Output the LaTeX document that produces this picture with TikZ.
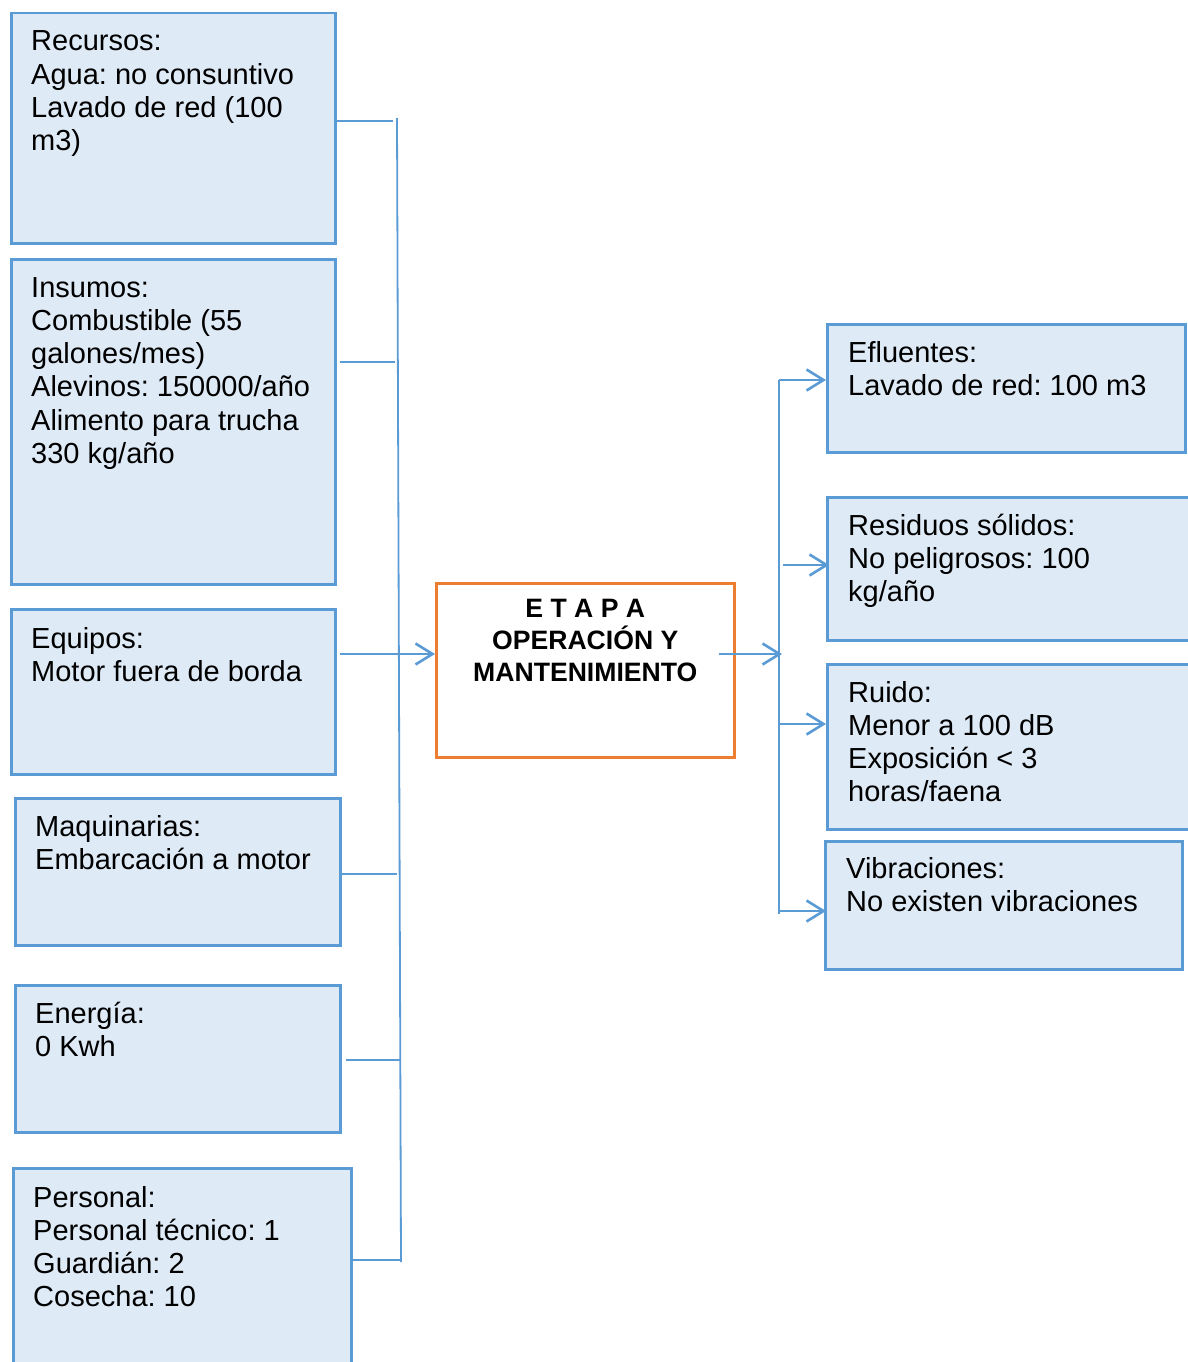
\documentclass[tikz,border=0pt]{standalone}
\usepackage{fontspec}
\setmainfont{Liberation Sans}
\usetikzlibrary{arrows.meta}
\frenchspacing

\definecolor{boxfill}{HTML}{DEEAF6}
\definecolor{boxline}{HTML}{5B9BD5}
\definecolor{stageline}{HTML}{ED7D31}

% stacked lines whose baseline is the baseline of the first line
\newcommand{\leftlines}[1]{\begin{tabular}[t]{@{}l@{}}#1\end{tabular}}
\newcommand{\midlines}[1]{\begin{tabular}[t]{@{}c@{}}#1\end{tabular}}

\tikzset{
  item/.style={draw=boxline, line width=2.5pt, fill=boxfill, anchor=north west,
    inner sep=0pt},
  stage/.style={draw=stageline, line width=2.5pt, fill=white, anchor=north west,
    inner sep=0pt},
  itemtext/.style={anchor=base west, inner sep=0pt,
    font=\fontsize{29}{33.3}\selectfont\frenchspacing},
  stagetext/.style={anchor=base, inner sep=0pt,
    font=\fontsize{26.6}{32}\selectfont\bfseries},
  bus/.style={draw=boxline, line width=1.8pt},
  feed/.style={draw=boxline, line width=2pt},
  flow/.style={draw=boxline, line width=2.6pt,
    -{Straight Barb[length=17pt,width=21pt]}},
}

\begin{document}
\begin{tikzpicture}[x=1pt, y=-1pt]
\useasboundingbox (0,0) rectangle (1188,1362);
\clip (0,0) rectangle (1188,1362);

% inputs on the left
\node[item, minimum width=324pt, minimum height=230pt] (rec) at (10,12) {};
\node[item, minimum width=324pt, minimum height=325pt] (ins) at (10,258) {};
\node[item, minimum width=324pt, minimum height=165pt] (equ) at (10,608) {};
\node[item, minimum width=325pt, minimum height=147pt] (maq) at (14,797) {};
\node[item, minimum width=325pt, minimum height=147pt] (ene) at (14,984) {};
\node[item, minimum width=338pt, minimum height=250pt] (per) at (12,1167) {};

% the stage
\node[stage, minimum width=298pt, minimum height=174pt] (cen) at (435,582) {};

% outputs on the right
\node[item, minimum width=358pt, minimum height=128pt] (efl) at (826,323) {};
\node[item, minimum width=400pt, minimum height=143pt] (res) at (826,496) {};
\node[item, minimum width=400pt, minimum height=165pt] (rui) at (826,663) {};
\node[item, minimum width=357pt, minimum height=128pt] (vib) at (824,840) {};

% texts
\node[itemtext] (recT) at ([xshift=21pt,yshift=-39pt]rec.north west)
  {\leftlines{Recursos:\\Agua: no consuntivo\\Lavado de red (100\\m3)}};
\node[itemtext] (insT) at ([xshift=21pt,yshift=-39pt]ins.north west)
  {\leftlines{Insumos:\\Combustible (55\\galones/mes)\\Alevinos: 150000/año\\Alimento para trucha\\330 kg/año}};
\node[itemtext] (equT) at ([xshift=21pt,yshift=-40pt]equ.north west)
  {\leftlines{Equipos:\\Motor fuera de borda}};
\node[itemtext] (maqT) at ([xshift=21pt,yshift=-39pt]maq.north west)
  {\leftlines{Maquinarias:\\Embarcación a motor}};
\node[itemtext] (eneT) at ([xshift=21pt,yshift=-39pt]ene.north west)
  {\leftlines{Energía:\\0 Kwh}};
\node[itemtext] (perT) at ([xshift=21pt,yshift=-40pt]per.north west)
  {\leftlines{Personal:\\Personal técnico: 1\\Guardián: 2\\Cosecha: 10}};

\node[stagetext] (cenT) at ([yshift=-35pt]cen.north)
  {\midlines{E T A P A\\\smash{OPERACIÓN Y}\\MANTENIMIENTO}};

\node[itemtext] (eflT) at ([xshift=22pt,yshift=-39pt]efl.north west)
  {\leftlines{Efluentes:\\Lavado de red: 100 m3}};
\node[itemtext] (resT) at ([xshift=22pt,yshift=-39pt]res.north west)
  {\leftlines{Residuos sólidos:\\No peligrosos: 100\\kg/año}};
\node[itemtext] (ruiT) at ([xshift=22pt,yshift=-39pt]rui.north west)
  {\leftlines{Ruido:\\Menor a 100 dB\\Exposición < 3\\horas/faena}};
\node[itemtext] (vibT) at ([xshift=22pt,yshift=-38pt]vib.north west)
  {\leftlines{Vibraciones:\\No existen vibraciones}};

% collecting line on the left
\coordinate (lbTop) at (397,118);
\coordinate (lbBot) at (401,1262);
\draw[bus] (lbTop) -- (lbBot);

\coordinate (jRec) at (393,121);
\coordinate (jIns) at (395,362);
\coordinate (jMaq) at (397,874);
\coordinate (jEne) at (401,1060);
\coordinate (jPer) at (401,1260);
\coordinate (jEqu) at (0,654);

\draw[feed] (rec.east |- jRec) -- (jRec);
\draw[feed] ([xshift=3pt]ins.east |- jIns) -- (jIns);
\draw[feed] (maq.east |- jMaq) -- (jMaq);
\draw[feed] ([xshift=4pt]ene.east |- jEne) -- (jEne);
\draw[feed] (per.east |- jPer) -- (jPer);
\draw[flow] ([xshift=3pt]equ.east |- jEqu) -- (cen.west |- jEqu);

% distributing line on the right
\coordinate (rbTop) at (779,380);
\coordinate (rbBot) at (779,914);
\coordinate (jOut) at (782,654);
\coordinate (jRes) at (783,565);
\coordinate (jRui) at (779,724);
\coordinate (jVib) at (779,911);

\draw[bus] (rbTop) -- (rbBot);
\draw[flow] ([xshift=-17pt]cen.east |- jOut) -- (jOut);
\draw[flow] (rbTop) -- (efl.west |- rbTop);
\draw[flow] (jRes) -- ([xshift=3pt]res.west |- jRes);
\draw[flow] (jRui) -- (rui.west |- jRui);
\draw[flow] (jVib) -- ([xshift=2pt]vib.west |- jVib);
\end{tikzpicture}
\end{document}
